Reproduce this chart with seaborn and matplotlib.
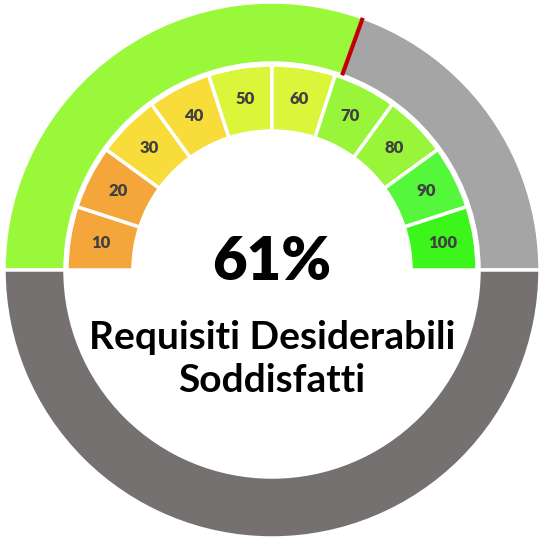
import numpy as np
import matplotlib
matplotlib.use("Agg")
from matplotlib import pyplot as plt
import seaborn as sns

# gauge data
score = 61
outer_labels = ['Soddisfatti', 'Non soddisfatti', 'Base']
outer_colors = ['#99F83A', '#A5A5A5', '#767171']
band_labels = ['10', '20', '30', '40', '50', '60', '70', '80', '90', '100']
band_values = [10, 10, 10, 10, 10, 10, 10, 10, 10, 10]
band_colors = ['#F5A63A', '#F5A63A', '#F7DC3A', '#F7DC3A', '#DBF53A',
               '#DBF53A', '#99F53A', '#99F53A', '#55F73A', '#3CF51A']
title_text = 'Requisiti Desiderabili\nSoddisfatti'

sns.set_style('white')
plt.rcParams['font.family'] = ['Lato', 'DejaVu Sans']

fig = plt.figure(figsize=(5.47, 5.51), dpi=100)
ax = fig.add_axes([0, 0, 1, 1])

# outer ring: upper half split by the score, lower half filler
outer_vals = [score, 100 - score, 100]
ax.pie(outer_vals, colors=outer_colors, startangle=180, counterclock=False,
       radius=268, wedgeprops=dict(width=61, edgecolor='white', linewidth=2.5))

# inner ring of bands, lower half left blank
wedges, _ = ax.pie(band_values + [sum(band_values)], colors=band_colors + ['none'],
                   startangle=180, counterclock=False, radius=205,
                   wedgeprops=dict(width=66, edgecolor='white', linewidth=2.5))
wedges[-1].set_edgecolor('none')

# band labels
for i, lab in enumerate(band_labels):
    ang = np.deg2rad(180 - 18 * (i + 0.5))
    r = 173
    ax.text(r * np.cos(ang), r * np.sin(ang), lab, ha='center', va='center',
            fontsize=12, fontweight='heavy', color='#404040')

# red marker at the score
ang = np.deg2rad(180 - 180 * score / 100)
ax.plot([207 * np.cos(ang), 268 * np.cos(ang)], [207 * np.sin(ang), 268 * np.sin(ang)],
        color='#C00000', lw=3, solid_capstyle='butt')

ax.text(0, 7, f'{score}%', ha='center', va='center', fontsize=43,
        fontweight='heavy', color='black')
ax.text(0, -89, title_text, ha='center', va='center', fontsize=28,
        fontweight='bold', color='black', linespacing=1.3)

ax.set_xlim(-272, 275)
ax.set_ylim(-281, 270)
ax.set_aspect('equal')
ax.axis('off')

fig.savefig('out.png', dpi=100)
